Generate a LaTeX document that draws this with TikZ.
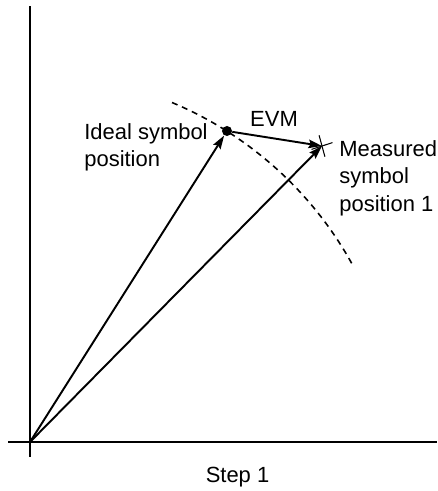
\documentclass[tikz,border=0pt]{standalone}
\usepackage{fontspec}
\setmainfont{Liberation Sans}
\usetikzlibrary{arrows.meta, calc, positioning}

\tikzset{
  vec/.style={->, line width=1.1pt},
  lbl/.style={inner sep=0pt, align=left, font=\fontsize{12.5}{15.6}\selectfont},
}

\begin{document}
\begin{tikzpicture}[x=0.02cm, y=-0.02cm, >={Stealth[length=2.7mm, width=1.7mm, inset=0.4mm]}]
        \useasboundingbox (0,0) rectangle (437,491);

        % --- Axes ---
        \coordinate (origin) at (30,442);
        \coordinate (y_top) at (30,6);
        \coordinate (y_bottom) at (30,457);
        \coordinate (x_left) at (8,442);
        \coordinate (x_right) at (437,442);
        \draw[line width=1.1pt] (y_top) -- (y_bottom);
        \draw[line width=1.1pt] (x_left) -- (x_right);

        % --- Dashed circle through ideal point ---
        \draw[line width=0.9pt, dash pattern=on 3.4pt off 2.8pt]
            ($(origin)+(67.3:368 and -368)$) arc[start angle=67.3, end angle=28.7, x radius=368, y radius=-368];

        % --- Ideal and measured points ---
        \node[circle, fill, inner sep=0pt, minimum size=5.7pt] (ideal) at (227,131) {};
        \coordinate (meas) at (322,146);
        \draw[line width=0.6pt] ($(meas)+(-10.5,3.4)$) -- ($(meas)+(10.5,-3.4)$);
        \draw[line width=0.6pt] ($(meas)+(-2.9,-10.7)$) -- ($(meas)+(2.9,10.7)$);

        % --- Vectors ---
        \draw[vec] (origin) -- (ideal);
        \draw[vec] (origin) -- (meas);
        \draw[vec] (ideal) -- (meas);

        % --- Labels ---
        \node[lbl, anchor=north west] (ideal_lbl) at (84,123) {Ideal symbol\\position};
        \node[lbl, anchor=north west] (meas_lbl) at (339,140) {Measured\\symbol\\position 1};
        \node[lbl] (evm_lbl) at (274,119) {EVM};
        \node[lbl] (step_lbl) at (237.5,477) {Step 1};
    \end{tikzpicture}
\end{document}
